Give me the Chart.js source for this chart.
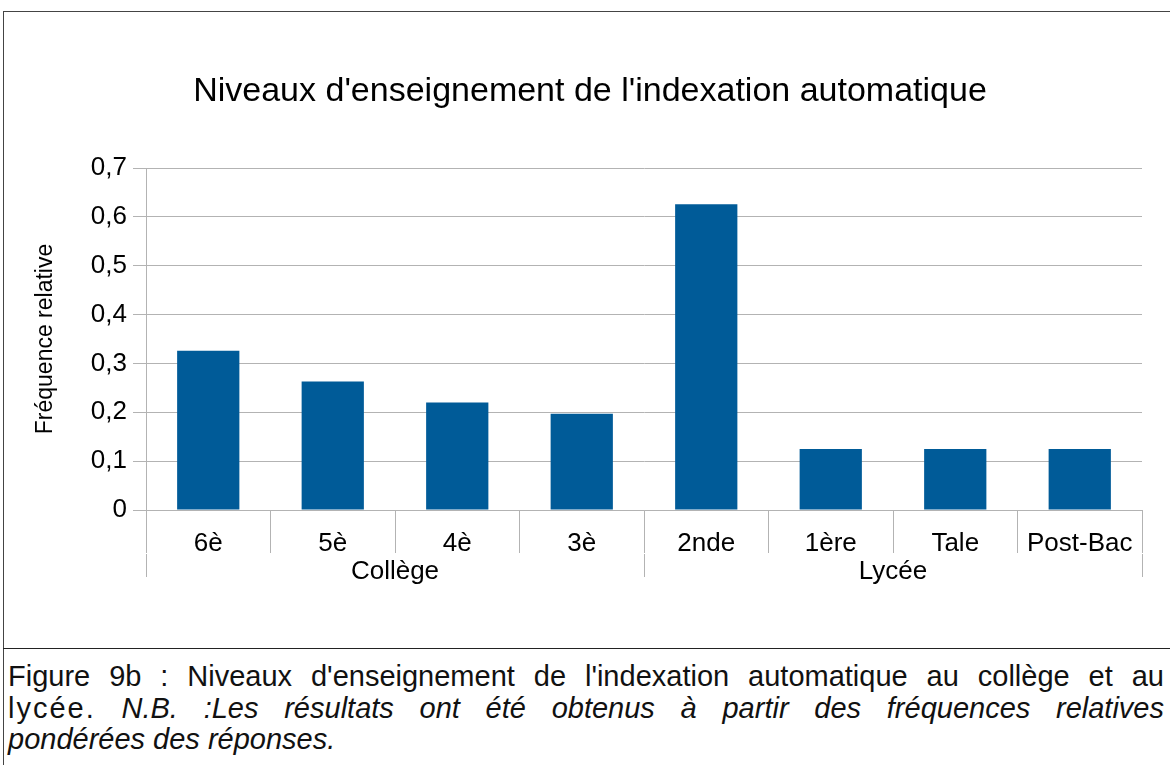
<!DOCTYPE html>
<html>
<head>
<meta charset="utf-8">
<script src="https://cdn.jsdelivr.net/npm/chart.js@4"></script>
<style>
  body { margin: 0; background: #fff; width: 1170px; height: 765px; overflow: hidden; position: relative; font-family: 'Liberation Sans', Arial, sans-serif; }
  #frame { position: absolute; left: 3px; top: 11px; width: 1200px; height: 800px; border-left: 1px solid #444; border-top: 1px solid #444; }
  #sep { position: absolute; left: 3px; top: 648px; width: 1200px; border-top: 1px solid #222; }
  #chart { position: absolute; left: 4px; top: 12px; }
  #caption { position: absolute; left: 8px; top: 661px; width: 1156px; font-size: 29px; line-height: 31.5px; color: #111; }
  #caption div { text-align: justify; }
  #caption .full { text-align-last: justify; }
</style>
</head>
<body>
<div id="frame"></div>
<div id="sep"></div>
<canvas id="chart" width="1166" height="636"></canvas>
<div id="caption">
  <div class="full">Figure 9b : Niveaux d'enseignement de l'indexation automatique au collège et au</div>
  <div class="full"><span style="letter-spacing:2px">lycée.</span> <i>N.B. :Les résultats ont été obtenus à partir des fréquences relatives</i></div>
  <div><i>pondérées des réponses.</i></div>
</div>
<script>
  // Levels and weighted relative frequencies
  const levels = ['6è', '5è', '4è', '3è', '2nde', '1ère', 'Tale', 'Post-Bac'];
  const frequencies = [0.326, 0.263, 0.22, 0.197, 0.626, 0.125, 0.125, 0.125];
  const groups = ['Collège', 'Lycée'];

  const gridColor = '#b3b3b3';
  const font = 'Liberation Sans';

  const formatTick = v => (v === 0 ? '0' : v.toFixed(1).replace('.', ','));

  new Chart(document.getElementById('chart'), {
    type: 'bar',
    data: {
      labels: levels,
      datasets: [{
        data: frequencies,
        backgroundColor: '#005b98',
        borderWidth: 0,
        barPercentage: 0.5,
        categoryPercentage: 1
      }]
    },
    options: {
      responsive: false,
      animation: false,
      devicePixelRatio: 1,
      layout: { padding: { left: 34, right: 28, top: 0, bottom: 60 } },
      plugins: {
        legend: { display: false },
        tooltip: { enabled: false },
        title: {
          display: true,
          text: "Niveaux d'enseignement de l'indexation automatique",
          color: '#000',
          font: { family: font, size: 34, weight: 'normal' },
          padding: { top: 59.6, bottom: 55.6 }
        }
      },
      scales: {
        x: {
          weight: 0,
          grid: { offset: true, drawOnChartArea: false, tickLength: 43, color: gridColor },
          border: { display: true, color: gridColor },
          ticks: { color: '#000', padding: -18, font: { family: font, size: 26, lineHeight: '18px' } },
          afterFit: s => { s.height = 44; }
        },
        // group row under the level labels
        x2: {
          type: 'category',
          labels: groups,
          position: 'bottom',
          weight: 1,
          offset: true,
          grid: { offset: true, drawOnChartArea: false, tickLength: 23, color: gridColor },
          border: { display: false },
          ticks: { color: '#000', padding: -20.6, font: { family: font, size: 26 } },
          afterFit: s => { s.height = 34; }
        },
        y: {
          min: 0,
          max: 0.7,
          grid: { color: gridColor, tickLength: 13 },
          border: { display: true, color: gridColor },
          ticks: { stepSize: 0.1, color: '#000', padding: 6, font: { family: font, size: 26 }, callback: formatTick },
          title: {
            display: true,
            text: 'Fréquence relative',
            color: '#000',
            font: { family: font, size: 23 },
            padding: { top: -6, bottom: 0 }
          },
          afterFit: s => { s.width = 108; }
        }
      }
    }
  });
</script>
</body>
</html>
